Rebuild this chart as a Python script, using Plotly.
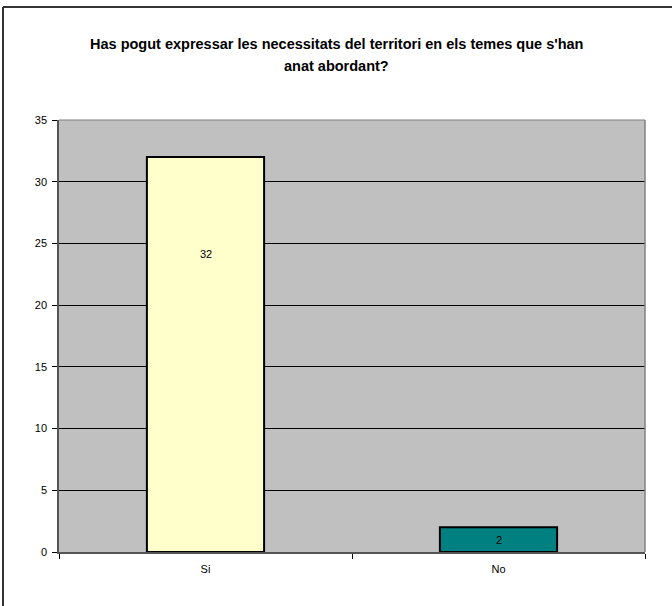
import plotly.graph_objects as go

categories = ["Si", "No"]
values = [32, 2]
bar_colors = ["#FFFFCC", "#008080"]
label_frac = [0.755, 0.5]
y_ticks = [0, 5, 10, 15, 20, 25, 30, 35]
title_lines = ["Has pogut expressar les necessitats del territori en els temes que s'han",
               "anat abordant?"]

W, H = 672, 606
L, R, T, B = 59, 27, 120, 54
pw, ph = W - L - R, H - T - B
FONT = "Liberation Sans, Arial"

fig = go.Figure()
fig.add_trace(go.Bar(
    x=categories, y=values,
    marker=dict(color=bar_colors, line=dict(color="black", width=2)),
    textposition="none", hoverinfo="x+y",
))

for c, v, f in zip(categories, values, label_frac):
    fig.add_annotation(x=c, y=v * f, text=str(v), showarrow=False,
                       font=dict(family=FONT, size=11, color="black"))

# title lines
for i, line in enumerate(title_lines):
    ypix = 44 + 22 * i
    fig.add_annotation(xref="paper", yref="paper", x=(336 - L) / pw,
                       y=(H - B - ypix) / ph, text="<b>" + line + "</b>",
                       showarrow=False, xanchor="center", yanchor="middle",
                       font=dict(family=FONT, size=14.5, color="black"))

# outer frame (left and top edges visible)
fx = (3 - L) / pw
fy = (H - B - 7) / ph
fig.add_shape(type="line", xref="paper", yref="paper",
              x0=fx, x1=fx, y0=-1, y1=fy, line=dict(color="#333333", width=2))
fig.add_shape(type="line", xref="paper", yref="paper",
              x0=fx, x1=1.5, y0=fy, y1=fy, line=dict(color="#333333", width=2))
# plot area top/right border
fig.add_shape(type="line", xref="paper", yref="paper", x0=0, x1=1, y0=1, y1=1,
              line=dict(color="#808080", width=1))
fig.add_shape(type="line", xref="paper", yref="paper", x0=1, x1=1, y0=0, y1=1,
              line=dict(color="#808080", width=1.5))

fig.update_layout(
    width=W, height=H,
    margin=dict(l=L, r=R, t=T, b=B),
    paper_bgcolor="white", plot_bgcolor="#C0C0C0",
    bargap=0.6,
    showlegend=False,
    font=dict(family=FONT, size=11, color="black"),
    xaxis=dict(showgrid=False, ticks="outside", tickson="boundaries", ticklen=5,
               tickcolor="black", showline=True, linecolor="#555555", linewidth=1.5,
               tickfont=dict(size=11), zeroline=False, ticklabelstandoff=6),
    yaxis=dict(range=[0, 35], tickvals=y_ticks, ticks="outside", ticklen=5,
               tickcolor="black", showline=True, linecolor="#555555", linewidth=1.5,
               showgrid=True, gridcolor="black", gridwidth=1, zeroline=False,
               tickfont=dict(size=11), ticklabelstandoff=3),
)

fig.write_html("out.html", config={"displayModeBar": False},
               post_script="document.body.style.margin='0';document.body.style.overflow='hidden';")
